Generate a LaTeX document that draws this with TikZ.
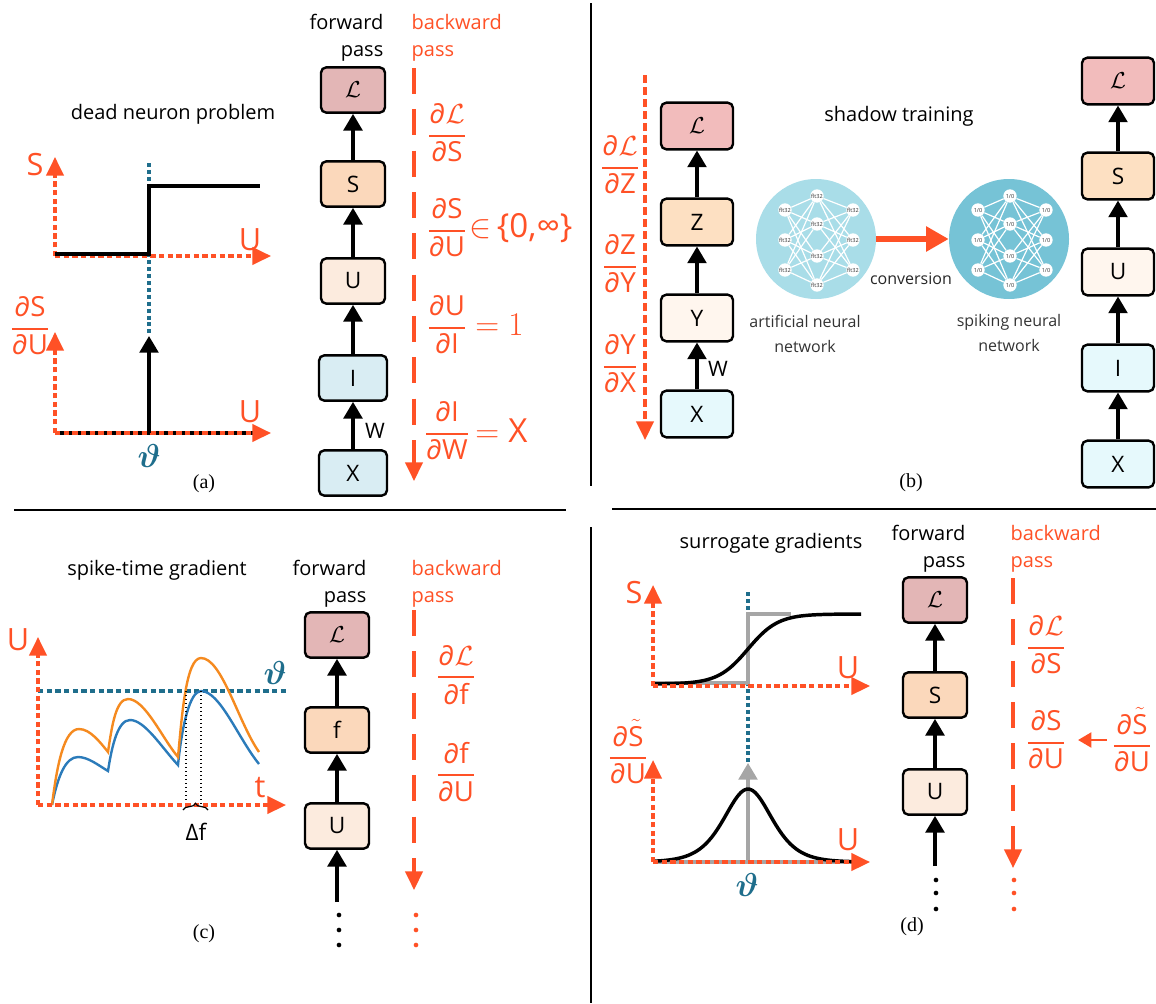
\documentclass[tikz,border=0pt]{standalone}
\usepackage{amsmath}
\usepackage{fontspec}
\setmainfont{Open Sans}
\newfontfamily\capfont{Liberation Serif}
\usetikzlibrary{arrows.meta,decorations.pathreplacing}
\definecolor{bporange}{HTML}{FF5126}
\definecolor{thteal}{HTML}{1F6E8C}
\definecolor{lossA}{HTML}{E3B6B6}
\definecolor{spikeA}{HTML}{FBD8BB}
\definecolor{memA}{HTML}{FCEBDE}
\definecolor{inA}{HTML}{D9EDF3}
\definecolor{lossB}{HTML}{F2BCBC}
\definecolor{spikeB}{HTML}{FDE0C2}
\definecolor{memB}{HTML}{FFF6EE}
\definecolor{inB}{HTML}{E6F9FC}
\definecolor{annblue}{HTML}{A9DDE8}
\definecolor{snnblue}{HTML}{76C3D6}
\definecolor{spikeline}{HTML}{2B7BBA}
\definecolor{spikeorange}{HTML}{F58A1F}
\newcommand{\pfrac}[2]{$\genfrac{}{}{1.3pt}{0}{\text{∂}\text{#1}}{\text{∂}\text{#2}}$}
\newcommand{\sfrac}{$\genfrac{}{}{1.3pt}{0}{\text{∂}\tilde{\text{S}}}{\text{∂U}}$}
\newcommand{\snnlab}{1/0}
\begin{document}
\begin{tikzpicture}[x=.75pt,y=-.75pt,
    fbox/.style={draw,rounded corners=4pt,line width=1.8pt,minimum width=48pt,minimum height=34pt,inner sep=0pt,font=\fontsize{17}{19}\selectfont},
    fwd/.style={-{Triangle[width=14pt,length=12.5pt]},line width=2.6pt},
    bwd/.style={-{Triangle[width=13pt,length=14pt]},bporange,line width=2.6pt,dash pattern=on 19.5pt off 11.5pt},
    axis/.style={-{Triangle[width=13pt,length=14pt]},bporange,line width=2.6pt,dash pattern=on 4pt off 2.5pt},
    thresh/.style={thteal,line width=2.4pt,dash pattern=on 3pt off 2.2pt},
    title/.style={font=\fontsize{15}{17}\selectfont},
    glabel/.style={bporange,font=\fontsize{23}{25}\selectfont},
    grad/.style={bporange,font=\fontsize{20.74}{25}\selectfont,inner sep=0pt},
    gradbig/.style={bporange,font=\fontsize{24.88}{27}\selectfont,inner sep=0pt},
    smalltxt/.style={font=\fontsize{12}{19}\selectfont,align=center,text=black!80},
    dotblack/.style={circle,fill=black,inner sep=0pt,minimum size=3.5pt},
    dotorange/.style={circle,fill=bporange,inner sep=0pt,minimum size=3.5pt},
    caption/.style={font=\capfont\fontsize{15}{17}\selectfont},
    theta/.style={thteal,font=\fontsize{24.88}{26}\selectfont},
    annnode/.style={circle,fill=white,inner sep=0pt,minimum size=10pt,font=\fontsize{4.2}{5}\selectfont,text=black!80}]
\useasboundingbox (0,0) rectangle (1156,1003);
%dividers
\coordinate (d1) at (14,510); \coordinate (d2) at (566,510);
\coordinate (d3) at (612,509); \coordinate (d4) at (1156,509);
\coordinate (d5) at (591,3); \coordinate (d6) at (591,486);
\coordinate (d7) at (591,527); \coordinate (d8) at (591,1003);
\foreach \p/\q in {d1/d2,d3/d4,d5/d6,d7/d8}
    {
        \draw[line width=1pt] (\p)--(\q);
    }
%panel a
\foreach \nm/\txt/\yy/\col/\ww in {L/$\mathcal{L}$/90/lossA/48,S/S/184/spikeA/48,U/U/281/memA/48,I/I/378/inA/51,X/X/473/inA/51}
    {
        \node[fbox,fill=\col,minimum width=\ww pt] (a\nm) at (353,\yy) {\txt};
    }
\foreach \p/\q in {X/I,I/U,U/S,S/L}
    {
        \draw[fwd] (a\p)--(a\q);
    }
\node[title,anchor=east] (aFwd) at (388,22) {forward};
\node[title,anchor=east] (aPass) at (388,53) {pass};
\node[title,bporange,anchor=west] (aBack) at (407,22) {backward};
\node[title,bporange,anchor=west] (aPassB) at (407,53) {pass};
\node[title] (aTitle) at (173,114) {dead neuron problem};
\node[font=\fontsize{16}{18}\selectfont] (aW) at (375,431) {W};
\coordinate (aB0) at (414,68); \coordinate (aB1) at (414,481);
\draw[bwd] (aB0)--(aB1);
\node[grad] (aG1) at (447,133) {\pfrac{$\mathcal{L}$}{S}};
\node[grad] (aG2) at (447,228) {\pfrac{S}{U}};
\node[gradbig,anchor=west] (aG2b) at (469,228) {$\in$\,\{0,∞\}};
\node[grad] (aG3) at (447,325) {\pfrac{U}{I}};
\node[gradbig,anchor=west] (aG3b) at (475,325) {$=1$};
\node[grad] (aG4) at (447,431) {\pfrac{I}{W}};
\node[gradbig,anchor=west] (aG4b) at (475,431) {$=\text{X}$};
\coordinate (aT) at (149,163); \coordinate (aV) at (149,335);
\draw[thresh] (aT)--(aV);
\coordinate (aO) at (55,256); \coordinate (aYt) at (55,157); \coordinate (aXt) at (271,256);
\draw[axis] (aO)--(aYt);
\draw[axis] (aO)--(aXt);
\draw[line width=2.6pt] (55,254)--(149,254)--(149,186)--(260,186);
\node[glabel] (aS) at (35,165) {S};
\node[glabel] (aU) at (250,240) {U};
\coordinate (bO) at (55,433); \coordinate (bYt) at (55,332); \coordinate (bXt) at (271,433);
\draw[line width=2.6pt] (55,433)--(255,433);
\draw[axis] (bO)--(bYt);
\draw[axis] (bO)--(bXt);
\coordinate (aP) at (149,433); \coordinate (aPt) at (149,336);
\draw[fwd] (aP)--(aPt);
\node[grad] (aG5) at (30,326) {\pfrac{S}{U}};
\node[glabel] (aU2) at (250,412) {U};
\node[theta] (aTh) at (149,456) {$\boldsymbol{\vartheta}$};
\node[caption] (aCap) at (204,484) {(a)};
%panel b
\foreach \nm/\txt/\yy/\col in {L/$\mathcal{L}$/126/lossB,Z/Z/222/spikeB,Y/Y/318/memB,X/X/414/inB}
    {
        \node[fbox,fill=\col,minimum width=54pt,minimum height=35pt] (p\nm) at (697,\yy) {\txt};
    }
\foreach \p/\q in {X/Y,Y/Z,Z/L}
    {
        \draw[fwd] (p\p)--(p\q);
    }
\foreach \nm/\txt/\yy/\col in {L/$\mathcal{L}$/81/lossB,S/S/176/spikeB,U/U/272/memB,I/I/368/inB,X/X/464/inB}
    {
        \node[fbox,fill=\col,minimum width=54pt,minimum height=35pt] (q\nm) at (1118,\yy) {\txt};
    }
\foreach \p/\q in {X/I,I/U,U/S,S/L}
    {
        \draw[fwd] (q\p)--(q\q);
    }
\coordinate (pB0) at (645,75); \coordinate (pB1) at (645,440);
\draw[bwd,dash pattern=on 6pt off 3pt] (pB0)--(pB1);
\node[grad] (pG1) at (620,165) {\pfrac{$\mathcal{L}$}{Z}};
\node[grad] (pG2) at (620,264) {\pfrac{Z}{Y}};
\node[grad] (pG3) at (620,364) {\pfrac{Y}{X}};
\node[font=\fontsize{16}{18}\selectfont] (pW) at (718,369) {W};
\node[title] (pTitle) at (899,116) {shadow training};
\node[circle,fill=annblue,inner sep=0pt,minimum size=90pt] (ann) at (816,239) {};
\node[circle,fill=snnblue,inner sep=0pt,minimum size=90pt] (snn) at (1009,239) {};
\foreach \net/\cx/\lab in {ann/816/flt32,snn/1009/\snnlab}
    {
        \foreach \i/\dx/\dy in {1/-31/-29,2/-31/1,3/-31/31,4/37/-29,5/37/1,6/37/31}
            {
                \node[annnode] (\net\i) at (\cx+\dx,239+\dy) {\lab};
            }
        \foreach \i/\dy in {7/-43,8/-15,9/17,10/46}
            {
                \node[annnode] (\net\i) at (\cx+1,239+\dy) {\lab};
            }
        \foreach \a in {1,...,6}
            {
                \foreach \b in {7,...,10}
                    {
                        \draw[white,line width=.9pt] (\net\a)--(\net\b);
                    }
            }
    }
\draw[-{Triangle[width=18pt,length=17pt]},bporange,line width=4.5pt] (ann)--(snn);
\node[font=\fontsize{12}{14}\selectfont,text=black!85] (pConv) at (911,279) {conversion};
\node[smalltxt] (pAnn) at (805,334) {artificial neural\\network};
\node[smalltxt] (pSnn) at (1009,333) {spiking neural\\network};
\node[caption] (pCap) at (911,483) {(b)};
%panel c
\foreach \nm/\txt/\yy/\col in {L/$\mathcal{L}$/635/lossA,f/f/730/spikeA,U/U/826/memA}
    {
        \node[fbox,fill=\col] (c\nm) at (337,\yy) {\txt};
    }
\coordinate (cIn) at (337,902);
\draw[fwd] (cIn)--(cU);
\draw[fwd] (cU)--(cf);
\draw[fwd] (cf)--(cL);
\node[title,anchor=east] (cFwd) at (371,568) {forward};
\node[title,anchor=east] (cPass) at (371,599) {pass};
\node[title,bporange,anchor=west] (cBack) at (407,568) {backward};
\node[title,bporange,anchor=west] (cPassB) at (407,599) {pass};
\node[title] (cTitle) at (157,570) {spike-time gradient};
\coordinate (cB0) at (414,610); \coordinate (cB1) at (414,890);
\draw[bwd] (cB0)--(cB1);
\node[grad] (cG1) at (456,675) {\pfrac{$\mathcal{L}$}{f}};
\node[grad] (cG2) at (456,772) {\pfrac{f}{U}};
\foreach \i/\yy in {1/915,2/930,3/945}
    {
        \node[dotblack] (cd\i) at (339,\yy) {};
        \node[dotorange] (ce\i) at (416,\yy) {};
    }
\draw[thresh,dash pattern=on 4pt off 2.5pt] (38,691)--(288,691);
\draw[spikeline,line width=1.8pt] (52,805) .. controls (58,775) and (66,757) .. (78,757) .. controls (88,757) and (98,765) .. (108,771)
    .. controls (112,745) and (118,720) .. (130,720) .. controls (145,720) and (162,748) .. (178,765)
    .. controls (182,725) and (190,691) .. (201,691) .. controls (220,691) and (238,738) .. (259,764);
\draw[spikeorange,line width=1.8pt] (52,805) .. controls (57,765) and (64,729) .. (79,729) .. controls (90,729) and (100,742) .. (108,752)
    .. controls (112,725) and (116,699) .. (128,699) .. controls (145,699) and (162,738) .. (178,757)
    .. controls (182,715) and (186,658) .. (201,658) .. controls (222,658) and (238,722) .. (259,752);
\draw[dotted,line width=1pt] (186,691)--(186,805);
\draw[dotted,line width=1pt] (201,691)--(201,805);
\coordinate (cO) at (38,805); \coordinate (cYt) at (38,637); \coordinate (cXt) at (286,805);
\draw[axis] (cO)--(cYt);
\draw[axis] (cO)--(cXt);
\draw[decorate,decoration={brace,amplitude=5pt},line width=.9pt] (183,810)--(208,810);
\node[font=\fontsize{17}{19}\selectfont] (cDf) at (196,832) {Δf};
\node[glabel] (cU2) at (18,640) {U};
\node[glabel] (ct) at (260,788) {t};
\node[theta] (cTh) at (275,673) {$\boldsymbol{\vartheta}$};
\node[caption] (cCap) at (204,934) {(c)};
%panel d
\foreach \nm/\txt/\yy/\col in {L/$\mathcal{L}$/600/lossA,S/S/695/spikeA,U/U/792/memA}
    {
        \node[fbox,fill=\col] (e\nm) at (935,\yy) {\txt};
    }
\coordinate (eIn) at (935,866);
\draw[fwd] (eIn)--(eU);
\draw[fwd] (eU)--(eS);
\draw[fwd] (eS)--(eL);
\node[title,anchor=east] (eFwd) at (970,533) {forward};
\node[title,anchor=east] (ePass) at (970,564) {pass};
\node[title,bporange,anchor=west] (eBack) at (1006,533) {backward};
\node[title,bporange,anchor=west] (ePassB) at (1006,564) {pass};
\node[title] (eTitle) at (771,543) {surrogate gradients};
\coordinate (eB0) at (1013,578); \coordinate (eB1) at (1013,868);
\draw[bwd] (eB0)--(eB1);
\node[grad] (eG1) at (1046,645) {\pfrac{$\mathcal{L}$}{S}};
\node[grad] (eG2) at (1046,740) {\pfrac{S}{U}};
\node[grad] (eG3) at (1132,740) {\sfrac};
\draw[-{Triangle[width=11pt,length=10pt]},bporange,line width=2.2pt,shorten >=9pt,shorten <=4pt] (eG3)--(eG2);
\foreach \i/\yy in {1/880,2/893,3/909}
    {
        \node[dotblack] (ed\i) at (936,\yy) {};
        \node[dotorange] (ee\i) at (1014,\yy) {};
    }
\coordinate (eT) at (748,592); \coordinate (eV) at (748,762);
\draw[thresh] (eT)--(eV);
\draw[black!35,line width=2.6pt] (653,683)--(748,683)--(748,614)--(791,614);
\draw[line width=2.6pt] plot[domain=653:861,samples=70] (\x,{684-70/(1+exp(-(\x-748)/15))});
\coordinate (eO) at (653,686); \coordinate (eYt) at (653,585); \coordinate (eXt) at (870,686);
\draw[axis] (eO)--(eYt);
\draw[axis] (eO)--(eXt);
\draw[black!35,line width=2.6pt] (653,862)--(855,862);
\coordinate (eP) at (748,862); \coordinate (ePt) at (748,763);
\draw[fwd,black!35] (eP)--(ePt);
\draw[line width=2.6pt] plot[domain=653:855,samples=70] (\x,{862-292/(exp((\x-748)/32)+exp(-(\x-748)/32))^2});
\coordinate (fO) at (653,862); \coordinate (fYt) at (653,760); \coordinate (fXt) at (870,862);
\draw[axis] (fO)--(fYt);
\draw[axis] (fO)--(fXt);
\node[glabel] (eS2) at (634,593) {S};
\node[glabel] (eU1) at (848,668) {U};
\node[glabel] (eU2) at (848,840) {U};
\node[grad] (eG4) at (628,752) {\sfrac};
\node[theta] (eTh) at (747,885) {$\boldsymbol{\vartheta}$};
\node[caption] (eCap) at (912,927) {(d)};
\end{tikzpicture}
\end{document}
